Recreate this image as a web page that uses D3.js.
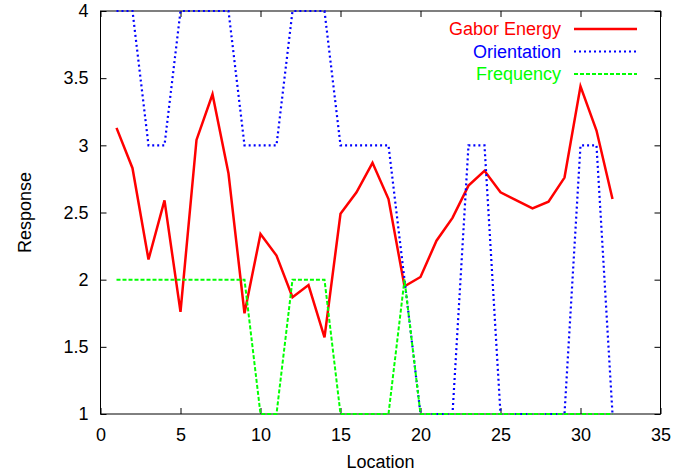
<!DOCTYPE html>
<html>
<head>
<meta charset="utf-8">
<script src="https://cdn.jsdelivr.net/npm/d3@7"></script>
<style>
  html, body { margin: 0; padding: 0; background: #fff; }
  svg { display: block; font-family: "Liberation Sans", Arial, Helvetica, sans-serif; }
</style>
</head>
<body>
<svg id="chart" width="676" height="476"></svg>
<script>
const locations = d3.range(1, 33);
const gaborEnergy = [3.13, 2.83, 2.15, 2.59, 1.76, 3.04, 3.38, 2.79, 1.75, 2.34,
                     2.18, 1.87, 1.96, 1.57, 2.49, 2.65, 2.87, 2.60, 1.95, 2.02,
                     2.29, 2.46, 2.70, 2.81, 2.65, 2.59, 2.53, 2.58, 2.76, 3.44,
                     3.11, 2.60];
const orientation = [4, 4, 3, 3, 4, 4, 4, 4, 3, 3,
                     3, 4, 4, 4, 3, 3, 3, 3, 2, 1,
                     1, 1, 3, 3, 1, 1, 1, 1, 1, 3,
                     3, 1];
const frequency = [2, 2, 2, 2, 2, 2, 2, 2, 2, 1,
                   1, 2, 2, 2, 1, 1, 1, 1, 2, 1,
                   1, 1, 1, 1, 1, 1, 1, 1, 1, 1,
                   1, 1];
const xTicks = [0, 5, 10, 15, 20, 25, 30, 35];
const yTicks = [1, 1.5, 2, 2.5, 3, 3.5, 4];
const seriesNames = ["Gabor Energy", "Orientation", "Frequency"];
const seriesColors = ["#ff0000", "#0000ff", "#00ff00"];
const seriesDash = [null, "2,3", "4,2"];
const seriesWidth = [2.5, 2.2, 2];

const svg = d3.select("#chart");
const L = 100.5, R = 660.5, T = 11, B = 414;
const x = d3.scaleLinear().domain([0, 35]).range([L, R]);
const y = d3.scaleLinear().domain([1, 4]).range([B, T]);
const fs = 18;

// axes with inward ticks
const gx = svg.append("g").attr("transform", `translate(0,${B})`)
  .call(d3.axisBottom(x).tickValues(xTicks).tickFormat(d3.format("d"))
        .tickSizeInner(-6).tickSizeOuter(0).tickPadding(14));
const gy = svg.append("g").attr("transform", `translate(${L},0)`)
  .call(d3.axisLeft(y).tickValues(yTicks).tickFormat(d => String(d))
        .tickSizeInner(-6).tickSizeOuter(0).tickPadding(12));
const gt = svg.append("g").attr("transform", `translate(0,${T})`)
  .call(d3.axisTop(x).tickValues(xTicks).tickFormat("")
        .tickSizeInner(-6).tickSizeOuter(0));
const gr = svg.append("g").attr("transform", `translate(${R},0)`)
  .call(d3.axisRight(y).tickValues(yTicks).tickFormat("")
        .tickSizeInner(-6).tickSizeOuter(0));
[gx, gy, gt, gr].forEach(g => {
  g.select(".domain").remove();
  g.selectAll(".tick line").attr("stroke", "#000").attr("stroke-width", 1);
  g.selectAll(".tick text").attr("fill", "#000").style("font-size", fs + "px")
    .style("font-family", '"Liberation Sans", Arial, sans-serif');
});

// frame
svg.append("rect").attr("x", L).attr("y", T).attr("width", R - L).attr("height", B - T)
  .attr("fill", "none").attr("stroke", "#000").attr("stroke-width", 1);

// axis titles
svg.append("text").attr("x", (L + R) / 2).attr("y", 468).attr("text-anchor", "middle")
  .style("font-size", fs + "px").text("Location");
svg.append("text").attr("transform", `translate(31,${(T + B) / 2}) rotate(-90)`)
  .attr("text-anchor", "middle").style("font-size", fs + "px").text("Response");

// series
const allSeries = [gaborEnergy, orientation, frequency];
const line = d3.line().x((d, i) => x(locations[i])).y(d => y(d));
allSeries.forEach((vals, k) => {
  svg.append("path").datum(vals).attr("d", line)
    .attr("fill", "none").attr("stroke", seriesColors[k])
    .attr("stroke-width", seriesWidth[k])
    .attr("stroke-dasharray", seriesDash[k])
    .attr("stroke-linejoin", "miter");
});

// legend
const legY = [29, 51.5, 74];
seriesNames.forEach((name, k) => {
  svg.append("text").attr("x", 561).attr("y", legY[k]).attr("dy", "0.35em")
    .attr("text-anchor", "end").attr("fill", seriesColors[k])
    .style("font-size", fs + "px").text(name);
  svg.append("line").attr("x1", 574).attr("x2", 637).attr("y1", legY[k]).attr("y2", legY[k])
    .attr("stroke", seriesColors[k]).attr("stroke-width", seriesWidth[k])
    .attr("stroke-dasharray", seriesDash[k]);
});
</script>
</body>
</html>
